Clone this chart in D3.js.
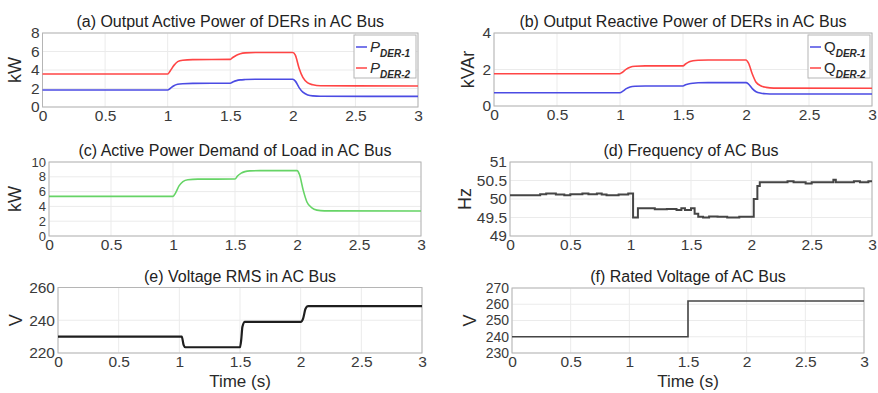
<!DOCTYPE html>
<html>
<head>
<meta charset="utf-8">
<script src="https://cdn.jsdelivr.net/npm/d3@7"></script>
<style>
  body { margin: 0; background: #fff; }
  svg { font-family: "Liberation Sans", Arial, sans-serif; }
</style>
</head>
<body>
<div id="chart"></div>
<script>
// time knots for the smooth power curves (a)-(c)
const tPower = [0, 1.0, 1.02, 1.05, 1.08, 1.12, 1.2, 1.5, 1.52, 1.55, 1.58, 1.62, 1.7, 2.0, 2.02, 2.05, 2.08, 2.12, 2.16, 2.22, 3.0];
const pDer1 = [1.84, 1.84, 2.0, 2.3, 2.45, 2.52, 2.55, 2.57, 2.7, 2.85, 2.93, 2.97, 3.0, 3.0, 2.8, 2.1, 1.6, 1.3, 1.2, 1.16, 1.15];
const pDer2 = [3.57, 3.57, 3.9, 4.5, 4.9, 5.05, 5.12, 5.15, 5.35, 5.6, 5.75, 5.85, 5.9, 5.9, 5.6, 4.2, 3.2, 2.6, 2.4, 2.3, 2.27];
const qDer1 = [0.73, 0.73, 0.8, 0.95, 1.04, 1.08, 1.1, 1.1, 1.16, 1.22, 1.25, 1.27, 1.28, 1.28, 1.2, 0.95, 0.78, 0.7, 0.67, 0.66, 0.66];
const qDer2 = [1.77, 1.77, 1.85, 2.02, 2.13, 2.18, 2.2, 2.2, 2.3, 2.42, 2.48, 2.51, 2.52, 2.52, 2.35, 1.75, 1.3, 1.1, 1.02, 0.98, 0.97];
const pLoad = [5.36, 5.36, 5.8, 6.8, 7.35, 7.6, 7.68, 7.7, 8.1, 8.5, 8.7, 8.8, 8.83, 8.83, 8.3, 6.2, 4.6, 3.8, 3.5, 3.4, 3.38];

// frequency (step signal)
const tFreq = [0, 0.25, 0.3, 0.38, 0.45, 0.5, 0.6, 0.65, 0.72, 0.76, 0.8, 0.9, 0.98, 1.02, 1.06, 1.2, 1.3, 1.38, 1.42, 1.45, 1.5, 1.53, 1.56, 1.6, 1.65, 1.72, 1.8, 1.9, 2.02, 2.05, 2.07, 2.3, 2.35, 2.45, 2.5, 2.68, 2.7, 2.85, 2.9, 2.97, 3.0];
const freq = [50.1, 50.13, 50.15, 50.12, 50.1, 50.13, 50.15, 50.13, 50.15, 50.12, 50.1, 50.12, 50.15, 49.5, 49.75, 49.72, 49.73, 49.7, 49.75, 49.7, 49.75, 49.6, 49.52, 49.5, 49.53, 49.52, 49.5, 49.52, 50.0, 50.35, 50.45, 50.48, 50.45, 50.42, 50.45, 50.52, 50.45, 50.48, 50.45, 50.48, 50.48];

// voltage RMS
const tVolt = [0, 1.02, 1.035, 1.05, 1.5, 1.51, 1.52, 1.54, 2.0, 2.02, 2.04, 2.06, 3.0];
const vRms = [230, 230, 225, 223.5, 223.5, 228, 236, 239, 239, 241, 247, 248.6, 248.6];

// rated voltage (step)
const tRated = [0, 1.5, 3.0];
const vRated = [240, 262, 262];

const xTicks = [0, 0.5, 1, 1.5, 2, 2.5, 3];

const width = 878;
const height = 393;

const svg = d3.select("#chart")
  .append("svg")
  .attr("width", width)
  .attr("height", height);

const zip = (t, v) => t.map((d, i) => [d, v[i]]);

function panel(cfg) {
  const x = d3.scaleLinear().domain([0, 3]).range([cfg.left, cfg.right]);
  const y = d3.scaleLinear().domain(cfg.yDomain).range([cfg.bottom, cfg.top]);
  const g = svg.append("g");

  // grid
  g.selectAll(".gx").data(xTicks).enter().append("line")
    .attr("x1", d => x(d)).attr("x2", d => x(d))
    .attr("y1", cfg.top).attr("y2", cfg.bottom)
    .attr("stroke", "#ebebeb").attr("stroke-width", 1);
  g.selectAll(".gy").data(cfg.yTicks).enter().append("line")
    .attr("x1", cfg.left).attr("x2", cfg.right)
    .attr("y1", d => y(d)).attr("y2", d => y(d))
    .attr("stroke", "#ebebeb").attr("stroke-width", 1);

  // frame
  g.append("rect")
    .attr("x", cfg.left).attr("y", cfg.top)
    .attr("width", cfg.right - cfg.left).attr("height", cfg.bottom - cfg.top)
    .attr("fill", "none").attr("stroke", "#b5b5b5").attr("stroke-width", 1);

  // axes (labels only)
  const xAxis = g.append("g")
    .attr("transform", `translate(0,${cfg.bottom})`)
    .call(d3.axisBottom(x).tickValues(xTicks).tickSize(0).tickPadding(3).tickFormat(d3.format("")));
  const yAxis = g.append("g")
    .attr("transform", `translate(${cfg.left},0)`)
    .call(d3.axisLeft(y).tickValues(cfg.yTicks).tickSize(0).tickPadding(3).tickFormat(d3.format("")));
  xAxis.select(".domain").remove();
  yAxis.select(".domain").remove();
  xAxis.selectAll("text").style("font-size", "15.5px").attr("fill", "#3a3a3a");
  yAxis.selectAll("text").style("font-size", (cfg.yFont || 15.5) + "px").attr("fill", "#3a3a3a");
  g.selectAll(".tick text").style("font-family", "'Liberation Sans', Arial, sans-serif");

  // series
  cfg.series.forEach(s => {
    const line = d3.line()
      .x(d => x(d[0]))
      .y(d => y(d[1]))
      .curve(s.curve || d3.curveMonotoneX);
    g.append("path")
      .datum(zip(s.t, s.v))
      .attr("fill", "none")
      .attr("stroke", s.color)
      .attr("stroke-width", s.width || 1.6)
      .attr("d", line);
  });

  // title
  g.append("text")
    .attr("x", (cfg.left + cfg.right) / 2)
    .attr("y", cfg.top - 6)
    .attr("text-anchor", "middle")
    .attr("fill", "#222")
    .style("font-size", "16px")
    .text(cfg.title);

  // y label
  g.append("text")
    .attr("transform", `translate(${cfg.yLabelX},${(cfg.top + cfg.bottom) / 2}) rotate(-90)`)
    .attr("text-anchor", "middle")
    .attr("fill", "#2a2a2a")
    .style("font-size", "18px")
    .text(cfg.yLabel);

  if (cfg.xLabel) {
    g.append("text")
      .attr("x", (cfg.left + cfg.right) / 2)
      .attr("y", cfg.bottom + 34)
      .attr("text-anchor", "middle")
      .attr("fill", "#2a2a2a")
      .style("font-size", "17px")
      .text(cfg.xLabel);
  }

  if (cfg.legend) {
    const lg = g.append("g");
    const lx = cfg.right - 64, ly = cfg.top + 2;
    lg.append("rect")
      .attr("x", lx).attr("y", ly).attr("width", 62).attr("height", 43)
      .attr("fill", "#fff").attr("stroke", "#b5b5b5");
    cfg.legend.forEach((l, i) => {
      const yy = ly + 12 + i * 21;
      lg.append("line")
        .attr("x1", lx + 2).attr("x2", lx + 13)
        .attr("y1", yy).attr("y2", yy)
        .attr("stroke", l.color).attr("stroke-width", 1.5);
      const t = lg.append("text")
        .attr("x", lx + 16).attr("y", yy + 5)
        .attr("fill", "#2a2a2a")
        .style("font-size", "15px");
      t.append("tspan").style("font-style", l.italic ? "italic" : "normal").text(l.main);
      t.append("tspan").attr("dy", 5).style("font-size", "10px").style("font-style", "italic")
        .style("font-weight", "bold").text(l.sub);
    });
  }
}

const blue = "#4b4be3";
const red = "#ff4545";

panel({
  left: 42.5, right: 418, top: 33, bottom: 107,
  yDomain: [0, 8], yTicks: [0, 2, 4, 6, 8],
  title: "(a) Output Active Power of DERs in AC Bus", yLabel: "kW", yLabelX: 21,
  series: [{ t: tPower, v: pDer1, color: blue }, { t: tPower, v: pDer2, color: red }],
  legend: [{ main: "P", sub: "DER-1", color: blue, italic: true }, { main: "P", sub: "DER-2", color: red, italic: true }]
});

panel({
  left: 494, right: 872, top: 33, bottom: 106,
  yDomain: [0, 4], yTicks: [0, 2, 4],
  title: "(b) Output Reactive Power of DERs in AC Bus", yLabel: "kVAr", yLabelX: 474,
  series: [{ t: tPower, v: qDer1, color: blue }, { t: tPower, v: qDer2, color: red }],
  legend: [{ main: "Q", sub: "DER-1", color: blue }, { main: "Q", sub: "DER-2", color: red }]
});

panel({
  left: 49, right: 421, top: 162, bottom: 236, yFont: 13,
  yDomain: [0, 10], yTicks: [0, 2, 4, 6, 8, 10],
  title: "(c) Active Power Demand of Load in AC Bus", yLabel: "kW", yLabelX: 21,
  series: [{ t: tPower, v: pLoad, color: "#66d466" }]
});

panel({
  left: 510, right: 872, top: 162, bottom: 236,
  yDomain: [49, 51], yTicks: [49, 49.5, 50, 50.5, 51],
  title: "(d) Frequency of AC Bus", yLabel: "Hz", yLabelX: 471,
  series: [{ t: tFreq, v: freq, color: "#454545", width: 2, curve: d3.curveStepAfter }]
});

panel({
  left: 58, right: 422, top: 287.5, bottom: 353,
  yDomain: [220, 260], yTicks: [220, 240, 260],
  title: "(e) Voltage RMS in AC Bus", yLabel: "V", yLabelX: 22, xLabel: "Time (s)",
  series: [{ t: tVolt, v: vRms, color: "#1e1e1e", width: 2.2 }]
});

panel({
  left: 512, right: 864, top: 288, bottom: 353, yFont: 14,
  yDomain: [230, 270], yTicks: [230, 240, 250, 260, 270],
  title: "(f) Rated Voltage of AC Bus", yLabel: "V", yLabelX: 476, xLabel: "Time (s)",
  series: [{ t: tRated, v: vRated, color: "#454545", width: 1.6, curve: d3.curveStepAfter }]
});
</script>
</body>
</html>
